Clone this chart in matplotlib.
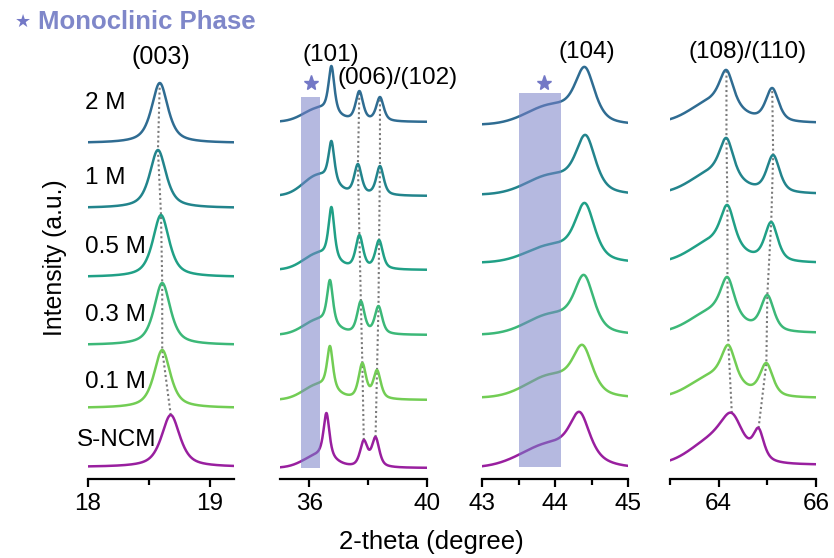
import numpy as np
import matplotlib
matplotlib.use('Agg')
import matplotlib.pyplot as plt
from matplotlib.patches import Rectangle
from matplotlib.ticker import FixedLocator

plt.rcParams['font.family'] = ['Liberation Sans', 'DejaVu Sans']

# samples, bottom to top
samples = ['S-NCM', '0.1 M', '0.3 M', '0.5 M', '1 M', '2 M']
colors = ['#991f9f', '#72cd54', '#3cb878', '#20a086', '#22848c', '#2f6c92']

# (003) region
p1_base = [12, 71, 134, 202, 271, 336]
p003_pos = [18.68, 18.61, 18.61, 18.60, 18.575, 18.59]
p003_h = [52, 58, 62, 62, 58, 60]

# (101), (006)/(102) region + monoclinic shoulder
p2_base = [11, 79, 144, 209, 283, 357]
mono2_pos = 36.3
mono2_h = [17, 17, 17, 18, 22, 15]
p101_pos = [36.58, 36.70, 36.70, 36.75, 36.75, 36.75]
p101_h = [55, 54, 55, 63, 55, 56]
p006_pos = [37.85, 37.80, 37.75, 37.70, 37.65, 37.70]
p006_h = [28, 37, 34, 35, 32, 31]
p102_pos = [38.25, 38.30, 38.35, 38.37, 38.40, 38.40]
p102_h = [31, 30, 29, 30, 30, 25]

# (104) region + monoclinic shoulder
p3_base = [11, 81, 144, 216, 284, 354]
mono3_pos = 44.0
mono3_h = [28, 25, 23, 20, 22, 22]
p104_pos = [44.34, 44.38, 44.40, 44.41, 44.42, 44.41]
p104_h = [56, 53, 60, 60, 60, 58]

# (108)/(110) region
p4_base = [14, 81, 146, 216, 285, 356]
side4_pos = 63.6
side4_h = [22, 19, 19, 19, 19, 19]
p108_pos = [64.27, 64.20, 64.18, 64.18, 64.16, 64.16]
p108_h = [52, 53, 56, 58, 56, 53]
p110_pos = [64.82, 64.98, 65.00, 65.08, 65.12, 65.10]
p110_h = [37, 35, 38, 41, 39, 35]

# shaded monoclinic ranges (x0, x1, y0, y1) and star marks
bands = {1: (35.7, 36.35, 11, 382), 2: (43.5, 44.08, 12, 386)}
stars = {1: (36.07, 396), 2: (43.85, 396)}


def pv(x, x0, fwhm, eta):
    d = (x - x0) / fwhm
    return eta / (1 + 4 * d**2) + (1 - eta) * np.exp(-4 * np.log(2) * d**2)


def profile(x, comps, targets):
    # comps: list of (center, fwhm, eta, x_at_which_target_is_read)
    M = np.array([[pv(xr, c, w, e) for (c, w, e, _) in comps] for (_, _, _, xr) in comps])
    amp = np.linalg.solve(M, np.array(targets, float))
    y = np.zeros_like(x)
    for a, (c, w, e, _) in zip(amp, comps):
        y += a * pv(x, c, w, e)
    return y


fig = plt.figure(figsize=(8.34, 5.58), dpi=100)
W, H = 834, 558
lefts = [88, 280, 482, 670]
widths = [146, 147, 146, 146]
xlims = [(18, 19.2), (35, 40), (43, 45), (63, 66)]
majors = [[18, 19], [36, 40], [43, 44, 45], [64, 66]]
minors = [[18.5], [38], [43.5, 44.5], [63, 65]]
axes = []
for l, w, xl, mj, mn in zip(lefts, widths, xlims, majors, minors):
    ax = fig.add_axes([l / W, 1 - 479 / H, w / W, (479 - 40) / H])
    ax.set_xlim(*xl)
    ax.set_ylim(0, 439)
    for s in ['left', 'right', 'top']:
        ax.spines[s].set_visible(False)
    ax.spines['bottom'].set_linewidth(1.6)
    ax.set_yticks([])
    ax.xaxis.set_major_locator(FixedLocator(mj))
    ax.xaxis.set_minor_locator(FixedLocator(mn))
    ax.set_xticklabels([str(v) for v in mj])
    ax.tick_params(axis='x', which='major', direction='out', length=6, width=1.6,
                   labelsize=17.5, pad=4)
    ax.tick_params(axis='x', which='minor', direction='out', length=4, width=1.6)
    ax.patch.set_alpha(0)
    axes.append(ax)

dot = dict(color='#7a7a7a', linestyle=(0, (1, 1.3)), lw=1.5, zorder=1)

# panel 1
ax = axes[0]
x = np.linspace(18, 19.2, 700)
for i in range(6):
    w = 0.18 if i == 0 else 0.16
    y = p1_base[i] + profile(x, [(p003_pos[i], w, 0.7, p003_pos[i])], [p003_h[i]])
    ax.plot(x, y, color=colors[i], lw=1.8, zorder=2)
ax.plot(p003_pos, np.add(p1_base, p003_h), **dot)
label_dy = [27, 26, 30, 30, 30, 40]
for i, s in enumerate(samples):
    ax.text(17.91 if i == 0 else 17.975, p1_base[i] + label_dy[i], s, fontsize=17.5,
            ha='left', va='center', clip_on=False, zorder=5)
ax.text(18.595, 422, '(003)', fontsize=18, ha='center', va='center')

# panel 2
ax = axes[1]
x = np.linspace(35, 40, 900)
for i in range(6):
    comps = [(mono2_pos, 1.2, 0.0, 36.3),
             (p101_pos[i], 0.24, 0.7, p101_pos[i]),
             (p006_pos[i], 0.30, 0.6, p006_pos[i]),
             (p102_pos[i], 0.30, 0.6, p102_pos[i])]
    y = p2_base[i] + profile(x, comps, [mono2_h[i], p101_h[i], p006_h[i], p102_h[i]])
    ax.plot(x, y, color=colors[i], lw=1.8, zorder=2)
ax.plot(p006_pos, np.add(p2_base, p006_h), **dot)
ax.plot(p102_pos, np.add(p2_base, p102_h), **dot)
ax.text(36.74, 424, '(101)', fontsize=17.5, ha='center', va='center')
ax.text(39.0, 401, '(006)/(102)', fontsize=17.5, ha='center', va='center', clip_on=False)

# panel 3
ax = axes[2]
x = np.linspace(43, 45, 700)
for i in range(6):
    wm = 0.95 if i == 0 else 0.8
    comps = [(mono3_pos - 0.05, wm, 0.0, mono3_pos),
             (p104_pos[i], 0.32, 0.6, p104_pos[i])]
    y = p3_base[i] + profile(x, comps, [mono3_h[i], p104_h[i]])
    ax.plot(x, y, color=colors[i], lw=1.8, zorder=2)
ax.text(44.44, 427, '(104)', fontsize=17.5, ha='center', va='center')

# panel 4
ax = axes[3]
x = np.linspace(63, 66, 800)
for i in range(6):
    if i == 0:
        w108, w110 = 0.55, 0.26
    else:
        w108, w110 = 0.34, 0.32
    comps = [(63.9, 1.1, 0.0, side4_pos),
             (p108_pos[i], w108, 0.65, p108_pos[i]),
             (p110_pos[i], w110, 0.6, p110_pos[i])]
    y = p4_base[i] + profile(x, comps, [side4_h[i], p108_h[i], p110_h[i]])
    ax.plot(x, y, color=colors[i], lw=1.8, zorder=2)
ax.plot(p108_pos, np.add(p4_base, p108_h), **dot)
ax.plot(p110_pos, np.add(p4_base, p110_h), **dot)
ax.text(64.59, 427, '(108)/(110)', fontsize=17.5, ha='center', va='center', clip_on=False)

# monoclinic bands and stars
for k in bands:
    x0, x1, y0, y1 = bands[k]
    axes[k].add_patch(Rectangle((x0, y0), x1 - x0, y1 - y0, facecolor='#7880c8',
                                alpha=0.55, lw=0, zorder=3))
    sx, sy = stars[k]
    axes[k].plot([sx], [sy], marker='*', ms=11, color='#7378c6', zorder=4)

fig.text(15 / W, 1 - 22 / H, '★', fontsize=13, color='#7378c6', family='DejaVu Sans',
         ha='left', va='center')
fig.text(38 / W, 1 - 22 / H, 'Monoclinic Phase', fontsize=18.5, fontweight='bold',
         color='#7f87c9', ha='left', va='center')
fig.text(431 / W, 1 - 542 / H, '2-theta (degree)', fontsize=18.5, ha='center', va='center')
fig.text(55 / W, 1 - 258 / H, 'Intensity (a.u.)', fontsize=17.8, rotation=90,
         ha='center', va='center')

fig.savefig('out.png', dpi=100)
